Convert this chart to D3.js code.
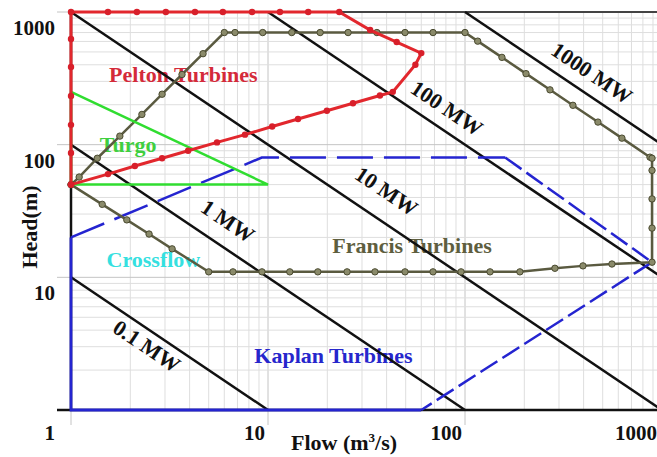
<!DOCTYPE html>
<html><head><meta charset="utf-8">
<script src="https://cdn.jsdelivr.net/npm/d3@7"></script>
<style>body{margin:0;background:#fff}svg{display:block}</style>
</head><body>
<svg id="c" width="657" height="457"></svg>
<script>
// ---------- data ----------
const xTicks = [1, 10, 100, 1000];
const xTickLabels = ["1", "10", "100", "1000"];
const yTicks = [10, 100, 1000];
const yTickLabels = ["10", "100", "1000"];

// constant-power lines (Flow, Head endpoints)
const powerLabels = ["0.1 MW", "1 MW", "10 MW", "100 MW", "1000 MW"];
const powerFlowEnds = [[1, 10], [1, 100], [1, 1000], [10, 1000], [100, 1000]];
const powerHeadEnds = [[10, 1], [100, 1], [1000, 1], [1000, 10], [1000, 100]];
const powerLabelFlow = [2.43, 6.27, 40, 81, 441];
const powerLabelHead = [3.04, 26.6, 44.8, 189, 347];

// Pelton envelope
const peltonFlow = [1, 1.54, 2.11, 2.9, 3.93, 5.51, 7.64, 10.5, 14.2, 19.9, 27, 37, 43, 56, 60, 45, 33, 23, 16, 11.5, 8.3, 5.9, 4.26, 3.03, 2.16, 1.54, 1, 1, 1, 1, 1, 1, 1];
const peltonHead = [50, 60, 69, 79, 90, 104, 119, 137, 156, 180, 205, 235, 250, 400, 490, 594, 731, 1000, 1000, 1000, 1000, 1000, 1000, 1000, 1000, 1000, 1000, 626, 385, 233, 141, 86.5, 50];

// Francis envelope
const francisFlow = [1, 1.1, 1.36, 1.77, 2.29, 2.9, 3.66, 4.68, 6, 6.8, 9.4, 13.2, 18.4, 25.5, 35.7, 49.6, 68.8, 100, 116, 154, 204, 270, 353, 473, 626, 869, 890, 890, 890, 890, 890, 557, 397, 286, 190, 134, 95.5, 68.8, 49.6, 34.9, 25.2, 17.9, 12.9, 9.32, 6.64, 5, 3.26, 2.49, 1.92, 1.44, 1];
const francisHead = [50, 57, 79, 116, 169, 240, 338, 485, 700, 700, 700, 700, 700, 700, 700, 700, 700, 700, 603, 455, 343, 259, 198, 148, 112, 80.5, 79, 64, 39, 23.5, 13, 12.6, 12.2, 11.7, 11, 11, 11, 11, 11, 11, 11, 11, 11, 11, 11, 11, 16.4, 21.2, 27.1, 35.5, 50];

// Kaplan envelope (points 0-2 solid, 2-4 long dash, 4-6 short dash)
const kaplanFlow = [60, 1, 1, 9.3, 160, 890, 60];
const kaplanHead = [1, 1, 20, 80, 80, 13, 1];

// Turgo envelope
const turgoFlow = [1, 1, 10, 1];
const turgoHead = [250, 50, 50, 250];

// Region labels
const regionNames = ["Pelton Turbines", "Turgo", "Crossflow", "Francis Turbines", "Kaplan Turbines"];
const regionFlow = [3.72, 1.95, 2.62, 53.8, 21.5];
const regionHead = [297, 88, 12.0, 15.3, 2.26];
const regionColors = ["#d42a3a", "#3fcf3f", "#35e0e0", "#5e5e3e", "#2626cc"];

// ---------- layout ----------
const svg = d3.select("#c");
const x = d3.scaleLog().domain([1, 1000]).range([71, 662]);
const y = d3.scaleLog().domain([1, 1000]).range([410, 12]);
const FONT = "'Liberation Serif','Times New Roman',serif";

const gridVals = [];
[1, 10, 100].forEach(d => { for (let m = 1; m <= 9; m++) gridVals.push(d * m); });
gridVals.push(1000);
const isMajor = v => Math.abs(Math.log10(v) - Math.round(Math.log10(v))) < 1e-9;

const grid = svg.append("g");
grid.selectAll("line.v").data(gridVals).join("line")
  .attr("x1", d => x(d)).attr("x2", d => x(d))
  .attr("y1", y(1000)).attr("y2", d => isMajor(d) ? y(1) + 15 : y(1))
  .attr("stroke", d => isMajor(d) ? "#c4c4c4" : "#dedede").attr("stroke-width", 1);
grid.selectAll("line.h").data(gridVals).join("line")
  .attr("y1", d => y(d)).attr("y2", d => y(d))
  .attr("x1", d => isMajor(d) ? x(1) - 14 : x(1)).attr("x2", x(1000))
  .attr("stroke", d => isMajor(d) ? "#c4c4c4" : "#dedede").attr("stroke-width", 1);

// axes frame
svg.append("line").attr("x1", x(1) - 14).attr("x2", x(1000)).attr("y1", y(1)).attr("y2", y(1))
  .attr("stroke", "#111").attr("stroke-width", 2.5);
svg.append("line").attr("x1", x(1)).attr("x2", x(1)).attr("y1", y(1)).attr("y2", y(1000))
  .attr("stroke", "#111").attr("stroke-width", 2.5);
svg.append("line").attr("x1", x(1)).attr("x2", x(1000)).attr("y1", y(1000)).attr("y2", y(1000))
  .attr("stroke", "#444").attr("stroke-width", 2);

// tick labels
const xTickDx = [-16, -3, -3, -5];
svg.selectAll("text.xt").data(xTicks).join("text")
  .attr("x", (d, i) => x(d) + xTickDx[i]).attr("y", 440)
  .attr("text-anchor", "end").attr("font-family", FONT).attr("font-weight", "bold")
  .attr("font-size", 21).attr("fill", "#111").text((d, i) => xTickLabels[i]);
svg.selectAll("text.yt").data(yTicks).join("text")
  .attr("x", 55).attr("y", d => y(d) + 23)
  .attr("text-anchor", "end").attr("font-family", FONT).attr("font-weight", "bold")
  .attr("font-size", 21).attr("fill", "#111").text((d, i) => yTickLabels[i]);

// axis titles
svg.append("text").attr("transform", "translate(37,227) rotate(-90)")
  .attr("text-anchor", "middle").attr("font-family", FONT).attr("font-weight", "bold")
  .attr("font-size", 22).attr("fill", "#111").text("Head(m)");
const xt = svg.append("text").attr("x", 344).attr("y", 450)
  .attr("text-anchor", "middle").attr("font-family", FONT).attr("font-weight", "bold")
  .attr("font-size", 22).attr("fill", "#111");
xt.append("tspan").text("Flow (m");
xt.append("tspan").attr("font-size", 13).attr("dy", -8).text("3");
xt.append("tspan").attr("dy", 8).text("/s)");

// region labels (below lines)
svg.selectAll("text.reg").data(regionNames).join("text")
  .attr("x", (d, i) => x(regionFlow[i])).attr("y", (d, i) => y(regionHead[i]))
  .attr("text-anchor", "middle").attr("font-family", FONT).attr("font-weight", "bold")
  .attr("font-size", 22).attr("fill", (d, i) => regionColors[i]).text(d => d);

const line = d3.line().x(d => x(d[0])).y(d => y(d[1]));
const zip = (a, b) => a.map((v, i) => [v, b[i]]);

// power lines
const angle = -Math.atan2(y(1) - y(10), x(10) - x(1)) * 180 / Math.PI;
powerLabels.forEach((lab, i) => {
  svg.append("path").attr("d", line(zip(powerFlowEnds[i], powerHeadEnds[i])))
    .attr("fill", "none").attr("stroke", "#111").attr("stroke-width", 2.5);
  const px = x(powerLabelFlow[i]), py = y(powerLabelHead[i]);
  svg.append("text").attr("transform", `translate(${px},${py}) rotate(${-angle})`)
    .attr("text-anchor", "middle").attr("dy", "0.35em")
    .attr("font-family", FONT).attr("font-weight", "bold").attr("font-size", 22)
    .attr("fill", "#111").text(lab);
});

// Kaplan
const kap = zip(kaplanFlow, kaplanHead);
svg.append("path").attr("d", line(kap.slice(0, 3))).attr("fill", "none")
  .attr("stroke", "#2424d0").attr("stroke-width", 2.8);
svg.append("path").attr("d", line(kap.slice(2, 5))).attr("fill", "none")
  .attr("stroke", "#2424d0").attr("stroke-width", 2.5).attr("stroke-dasharray", "36,11");
svg.append("path").attr("d", line(kap.slice(4))).attr("fill", "none")
  .attr("stroke", "#2424d0").attr("stroke-width", 2.5).attr("stroke-dasharray", "20,6");

// Francis
const fr = zip(francisFlow, francisHead);
svg.append("path").attr("d", line(fr)).attr("fill", "none")
  .attr("stroke", "#5a5a40").attr("stroke-width", 2.5);
svg.selectAll("circle.fr").data(fr).join("circle")
  .attr("cx", d => x(d[0])).attr("cy", d => y(d[1])).attr("r", 3.2)
  .attr("fill", "#8a8a6a").attr("stroke", "#4a4a30").attr("stroke-width", 1);

// Turgo
svg.append("path").attr("d", line(zip(turgoFlow, turgoHead))).attr("fill", "none")
  .attr("stroke", "#30dd30").attr("stroke-width", 2.5);

// Pelton
const pe = zip(peltonFlow, peltonHead);
svg.append("path").attr("d", line(pe)).attr("fill", "none")
  .attr("stroke", "#e2272d").attr("stroke-width", 3);
svg.selectAll("circle.pe").data(pe).join("circle")
  .attr("cx", d => x(d[0])).attr("cy", d => y(d[1])).attr("r", 3.2)
  .attr("fill", "#d81f2a");
</script>
</body></html>
